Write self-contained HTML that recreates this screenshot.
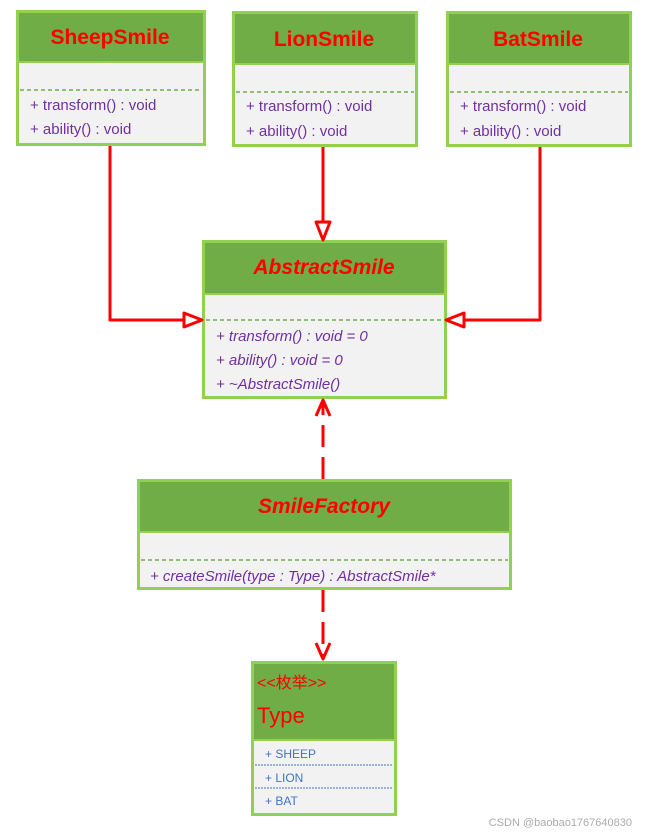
<!DOCTYPE html>
<html><head><meta charset="utf-8"><style>
body{margin:0;background:#fff}
svg{display:block}
text{font-family:"Liberation Sans","Noto Sans CJK SC",sans-serif}
</style></head><body>
<svg width="646" height="833" viewBox="0 0 646 833" xmlns="http://www.w3.org/2000/svg">
<g stroke-width="3">
<!-- SheepSmile -->
<rect x="17.5" y="11.5" width="187" height="133" fill="#f2f2f2" stroke="#92d050"/>
<rect x="19" y="13" width="184" height="48" fill="#70ad47"/>
<line x1="19" y1="62" x2="203" y2="62" stroke="#92d050" stroke-width="2"/>
<line x1="20" y1="90" x2="202" y2="90" stroke="#70ad47" stroke-width="1.5" stroke-dasharray="4,3"/>
<!-- LionSmile -->
<rect x="233.5" y="12.5" width="183" height="133" fill="#f2f2f2" stroke="#92d050"/>
<rect x="235" y="14" width="180" height="49" fill="#70ad47"/>
<line x1="235" y1="64" x2="415" y2="64" stroke="#92d050" stroke-width="2"/>
<line x1="236" y1="92" x2="414" y2="92" stroke="#70ad47" stroke-width="1.5" stroke-dasharray="4,3"/>
<!-- BatSmile -->
<rect x="447.5" y="12.5" width="183" height="133" fill="#f2f2f2" stroke="#92d050"/>
<rect x="449" y="14" width="180" height="49" fill="#70ad47"/>
<line x1="449" y1="64" x2="629" y2="64" stroke="#92d050" stroke-width="2"/>
<line x1="450" y1="92" x2="628" y2="92" stroke="#70ad47" stroke-width="1.5" stroke-dasharray="4,3"/>
<!-- AbstractSmile -->
<rect x="203.5" y="241.5" width="242" height="156" fill="#f2f2f2" stroke="#92d050"/>
<rect x="205" y="243" width="239" height="50" fill="#70ad47"/>
<line x1="205" y1="294" x2="444" y2="294" stroke="#92d050" stroke-width="2"/>
<line x1="206" y1="320" x2="443" y2="320" stroke="#70ad47" stroke-width="1.5" stroke-dasharray="4,3"/>
<!-- SmileFactory -->
<rect x="138.5" y="480.5" width="372" height="108" fill="#f2f2f2" stroke="#92d050"/>
<rect x="140" y="482" width="369" height="49" fill="#70ad47"/>
<line x1="140" y1="532" x2="509" y2="532" stroke="#92d050" stroke-width="2"/>
<line x1="141" y1="560" x2="508" y2="560" stroke="#70ad47" stroke-width="1.5" stroke-dasharray="4,3"/>
<!-- Type -->
<rect x="252.5" y="662.5" width="143" height="152" fill="#f2f2f2" stroke="#92d050"/>
<rect x="254" y="664" width="140" height="75" fill="#70ad47"/>
<line x1="254" y1="740" x2="394" y2="740" stroke="#92d050" stroke-width="2"/>
<line x1="255" y1="765" x2="393" y2="765" stroke="#4472c4" stroke-width="1" stroke-dasharray="2,1"/>
<line x1="255" y1="788" x2="393" y2="788" stroke="#4472c4" stroke-width="1" stroke-dasharray="2,1"/>
</g>
<!-- connectors -->
<g stroke="#ff0000" stroke-width="3" fill="none" stroke-linejoin="round">
<polyline points="110,146 110,320 184,320"/>
<polygon points="184,313 202,320 184,327" fill="#fff"/>
<line x1="323" y1="147" x2="323" y2="222"/>
<polygon points="316,222 323,240 330,222" fill="#fff"/>
<polyline points="540,147 540,320 464,320"/>
<polygon points="464,313 446,320 464,327" fill="#fff"/>
<line x1="323" y1="479" x2="323" y2="402" stroke-dasharray="22,10"/>
<polyline points="316,416 323,400 330,416"/>
<line x1="323" y1="590" x2="323" y2="658" stroke-dasharray="22,10"/>
<polyline points="316,643 323,659 330,643"/>
</g>
<!-- text -->
<g font-weight="bold" fill="#ff0000" font-size="21" text-anchor="middle">
<text x="110" y="44">SheepSmile</text>
<text x="324" y="46">LionSmile</text>
<text x="538" y="46">BatSmile</text>
<text x="324" y="274" font-style="italic">AbstractSmile</text>
<text x="324" y="513" font-style="italic">SmileFactory</text>
</g>
<g fill="#7030a0" font-size="15">
<text x="30" y="110">+ transform() : void</text>
<text x="30" y="134">+ ability() : void</text>
<text x="246" y="111">+ transform() : void</text>
<text x="246" y="136">+ ability() : void</text>
<text x="460" y="111">+ transform() : void</text>
<text x="460" y="136">+ ability() : void</text>
<g font-style="italic">
<text x="216" y="341">+ transform() : void = 0</text>
<text x="216" y="365">+ ability() : void = 0</text>
<text x="216" y="389">+ ~AbstractSmile()</text>
<text x="150" y="581" font-size="15">+ createSmile(type : Type) : AbstractSmile*</text>
</g>
</g>
<text x="257" y="688" fill="#ff0000" font-size="16">&lt;&lt;枚举&gt;&gt;</text>
<text x="257" y="723" fill="#ff0000" font-size="22">Type</text>
<g fill="#4472c4" font-size="12">
<text x="265" y="758">+ SHEEP</text>
<text x="265" y="782">+ LION</text>
<text x="265" y="805">+ BAT</text>
</g>
<text x="632" y="826" fill="#aaaaaa" font-size="11" text-anchor="end">CSDN @baobao1767640830</text>
</svg>
</body></html>
